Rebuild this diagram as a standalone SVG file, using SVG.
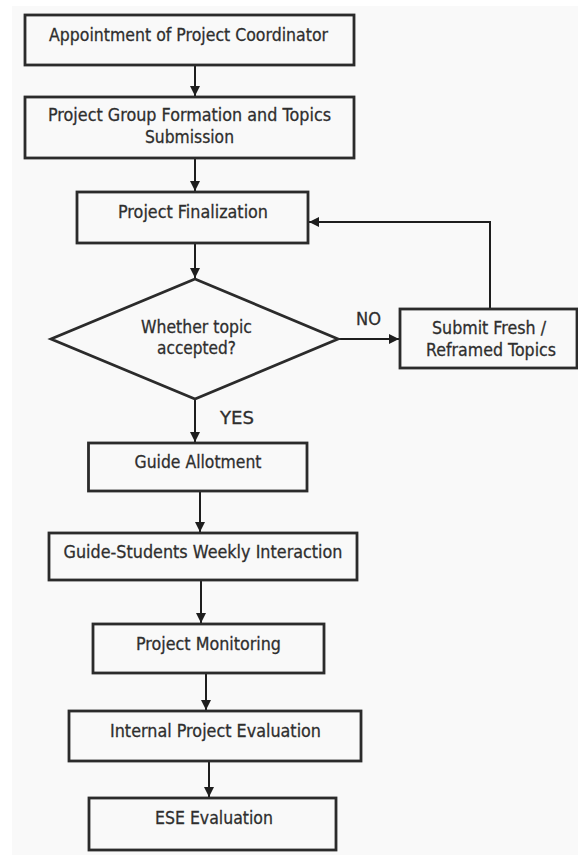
<svg xmlns="http://www.w3.org/2000/svg" width="578" height="856" viewBox="0 0 578 856">
  <style>
    .box { fill: #f9f9f9; stroke: #2b2b2b; stroke-width: 2.8; }
    .lbl { font-family: "DejaVu Sans", "Open Sans", sans-serif; font-size: 17px; fill: #2e2e2e; stroke: #2e2e2e; stroke-width: 0.3; }
    .edge { fill: none; stroke: #1e1e1e; stroke-width: 2; marker-end: url(#arrow); }
  </style>
  <defs>
    <marker id="arrow" markerUnits="userSpaceOnUse" markerWidth="11" markerHeight="10" refX="10" refY="5" orient="auto">
      <path d="M0,0 L10,5 L0,10 z" fill="#1e1e1e"/>
    </marker>
  </defs>

  <rect x="0" y="0" width="578" height="856" fill="#ffffff"/>
  <rect x="12" y="6" width="566" height="849" fill="#f9f9f9"/>

  <g id="connectors">
    <path class="edge" d="M195,65 V96"/>
    <path class="edge" d="M195,158 V191"/>
    <path class="edge" d="M195,243 V278"/>
    <path class="edge" d="M338,339 H399"/>
    <path class="edge" d="M490,309 V222 H309"/>
    <path class="edge" d="M195,399 V442"/>
    <path class="edge" d="M200,491 V532"/>
    <path class="edge" d="M201,580 V623"/>
    <path class="edge" d="M206,673 V710"/>
    <path class="edge" d="M209,761 V797"/>
    <text class="lbl" x="356" y="325" textLength="25" lengthAdjust="spacingAndGlyphs">NO</text>
    <text class="lbl" x="220" y="424" textLength="34" lengthAdjust="spacingAndGlyphs">YES</text>
  </g>

  <g id="coordinator">
    <rect class="box" x="25" y="15" width="329" height="50"/>
    <text class="lbl" x="49" y="41" textLength="279" lengthAdjust="spacingAndGlyphs">Appointment of Project Coordinator</text>
  </g>

  <g id="group-formation">
    <rect class="box" x="25" y="97" width="329" height="61"/>
    <text class="lbl" x="48" y="121" textLength="283" lengthAdjust="spacingAndGlyphs">Project Group Formation and Topics</text>
    <text class="lbl" x="145" y="143" textLength="89" lengthAdjust="spacingAndGlyphs">Submission</text>
  </g>

  <g id="finalization">
    <rect class="box" x="77" y="192" width="231" height="51"/>
    <text class="lbl" x="118" y="218" textLength="150" lengthAdjust="spacingAndGlyphs">Project Finalization</text>
  </g>

  <g id="topic-decision">
    <polygon class="box" points="195,279 338,339 195,399 51,339"/>
    <text class="lbl" x="141" y="333" textLength="111" lengthAdjust="spacingAndGlyphs">Whether topic</text>
    <text class="lbl" x="157" y="354" textLength="79" lengthAdjust="spacingAndGlyphs">accepted?</text>
  </g>

  <g id="resubmit">
    <rect class="box" x="400" y="309" width="177" height="59"/>
    <text class="lbl" x="432" y="334" textLength="114" lengthAdjust="spacingAndGlyphs">Submit Fresh /</text>
    <text class="lbl" x="426" y="356" textLength="130" lengthAdjust="spacingAndGlyphs">Reframed Topics</text>
  </g>

  <g id="guide-allotment">
    <rect class="box" x="88.5" y="443" width="218.5" height="48"/>
    <text class="lbl" x="134.5" y="468" textLength="127" lengthAdjust="spacingAndGlyphs">Guide Allotment</text>
  </g>

  <g id="weekly-interaction">
    <rect class="box" x="49" y="533" width="308" height="47"/>
    <text class="lbl" x="63.5" y="558" textLength="279" lengthAdjust="spacingAndGlyphs">Guide-Students Weekly Interaction</text>
  </g>

  <g id="monitoring">
    <rect class="box" x="93" y="624" width="231" height="49"/>
    <text class="lbl" x="136" y="650" textLength="145" lengthAdjust="spacingAndGlyphs">Project Monitoring</text>
  </g>

  <g id="internal-evaluation">
    <rect class="box" x="69" y="711" width="292" height="50"/>
    <text class="lbl" x="110" y="737" textLength="211" lengthAdjust="spacingAndGlyphs">Internal Project Evaluation</text>
  </g>

  <g id="ese-evaluation">
    <rect class="box" x="89" y="798" width="247" height="52"/>
    <text class="lbl" x="155" y="824" textLength="118" lengthAdjust="spacingAndGlyphs">ESE Evaluation</text>
  </g>
</svg>
